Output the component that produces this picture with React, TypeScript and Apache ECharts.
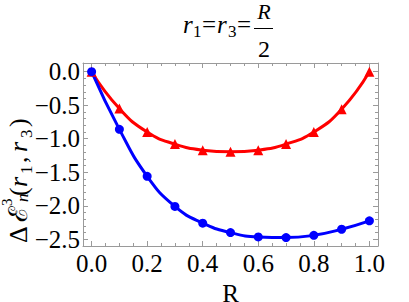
import React, { useEffect, useRef } from "react";
import * as echarts from "echarts";

const R_VALUES = [0, 0.1, 0.2, 0.3, 0.4, 0.5, 0.6, 0.7, 0.8, 0.9, 1.0];
const BLUE_VALUES = [0, -0.86, -1.56, -2.01, -2.26, -2.4, -2.465, -2.475, -2.44, -2.35, -2.225];
const RED_VALUES = [0, -0.55, -0.9, -1.08, -1.17, -1.195, -1.17, -1.08, -0.9, -0.56, 0];
const X_MAJOR_TICKS = [0, 0.2, 0.4, 0.6, 0.8, 1.0];
const X_MINOR_TICKS = [0.05, 0.1, 0.15, 0.25, 0.3, 0.35, 0.45, 0.5, 0.55, 0.65, 0.7, 0.75, 0.85, 0.9, 0.95];
const Y_MAJOR_TICKS = [-2.5, -2.0, -1.5, -1.0, -0.5, 0];
const Y_MINOR_TICKS = [-2.4, -2.3, -2.2, -2.1, -1.9, -1.8, -1.7, -1.6, -1.4, -1.3, -1.2, -1.1, -0.9, -0.8, -0.7, -0.6, -0.4, -0.3, -0.2, -0.1];

const SERIF = "Liberation Serif";
const FRAME = "#9a9a9a";

function axis(kind: "x" | "y", position: string, ticks: number[], len: number, showLine: boolean, labels: boolean) {
  const isX = kind === "x";
  return {
    type: "value",
    position,
    min: isX ? -0.031 : -2.6,
    max: isX ? 1.031 : 0.13,
    axisLine: { show: showLine, onZero: false, lineStyle: { color: FRAME, width: 1 } },
    axisTick: { show: true, inside: true, length: len, lineStyle: { color: FRAME, width: 1 }, customValues: ticks },
    axisLabel: {
      show: labels,
      customValues: ticks,
      color: "#000",
      fontFamily: SERIF,
      fontSize: 25,
      margin: isX ? 5 : 3,
      formatter: (v: any) => {
        const n = Number(v);
        return Math.abs(n) < 1e-9 ? "0.0" : n < 0 ? "\u2212" + Math.abs(n).toFixed(1) : n.toFixed(1);
      },
    },
    splitLine: { show: false },
    ...(isX && position === "bottom" && labels
      ? {
          name: "R",
          nameLocation: "middle",
          nameGap: 26,
          nameTextStyle: { color: "#000", fontFamily: SERIF, fontSize: 25 },
        }
      : {}),
  };
}

function txt(text: string, x: number, baseline: number, size: number, italic = false, align = "left") {
  return {
    type: "text",
    style: {
      text,
      x,
      y: baseline - 0.34 * size,
      font: (italic ? "italic" : "normal") + " normal " + size + "px " + SERIF,
      fill: "#000",
      align,
      verticalAlign: "middle",
    },
  };
}

export default function App() {
  const ref = useRef<HTMLDivElement>(null);
  useEffect(() => {
    if (!ref.current) return;
    const chart = echarts.init(ref.current, null, { renderer: "svg" });
    chart.setOption({
      animation: false,
      backgroundColor: "#fff",
      grid: { left: 83, right: 31, top: 63, bottom: 56, containLabel: false, outerBoundsMode: "none" },
      xAxis: [
        axis("x", "bottom", X_MAJOR_TICKS, 5, true, true),
        axis("x", "bottom", X_MINOR_TICKS, 3, false, false),
        axis("x", "top", X_MAJOR_TICKS, 5, true, false),
        axis("x", "top", X_MINOR_TICKS, 3, false, false),
      ],
      yAxis: [
        axis("y", "left", Y_MAJOR_TICKS, 5, true, true),
        axis("y", "left", Y_MINOR_TICKS, 3, false, false),
        axis("y", "right", Y_MAJOR_TICKS, 5, true, false),
        axis("y", "right", Y_MINOR_TICKS, 3, false, false),
      ],
      series: [
        {
          type: "line",
          data: R_VALUES.map((r, i) => [r, RED_VALUES[i]]),
          smooth: true,
          symbol: "triangle",
          symbolSize: 10,
          lineStyle: { color: "#ff0000", width: 3 },
          itemStyle: { color: "#ff0000" },
        },
        {
          type: "line",
          data: R_VALUES.map((r, i) => [r, BLUE_VALUES[i]]),
          smooth: true,
          symbol: "circle",
          symbolSize: 9,
          lineStyle: { color: "#0000ff", width: 3 },
          itemStyle: { color: "#0000ff" },
        },
      ],
      graphic: [
        {
          type: "group",
          children: [
            txt("r", 183, 33, 25, true),
            txt("1", 193, 37, 17),
            txt("=", 202, 33, 25),
            txt("r", 217, 33, 25, true),
            txt("3", 228, 37, 17),
            txt("=", 237, 33, 25),
            txt("R", 264, 19, 22, true, "center"),
            { type: "line", shape: { x1: 254, y1: 28.5, x2: 273, y2: 28.5 }, style: { stroke: "#000", lineWidth: 1 } },
            txt("2", 264, 57, 24, false, "center"),
          ],
        },
        {
          type: "group",
          x: 27,
          y: 243,
          rotation: Math.PI / 2,
          children: [
            txt("\u0394", 0, 0, 26),
            txt("\u2130", 21, 0, 26),
            txt("3", 37, -15, 15),
            txt("n", 41, 1, 17, true),
            txt("(", 47, 0, 26),
            txt("r", 56, 0, 26, true),
            txt("1", 69, 5, 17),
            txt(",", 80, 0, 26),
            txt("r", 91, 0, 26, true),
            txt("3", 105, 5, 17),
            txt(")", 116, 0, 26),
          ],
        },
      ],
    });
    return () => chart.dispose();
  }, []);
  return <div ref={ref} style={{ width: 409, height: 302, position: "absolute", left: 0, top: 0 }} />;
}
